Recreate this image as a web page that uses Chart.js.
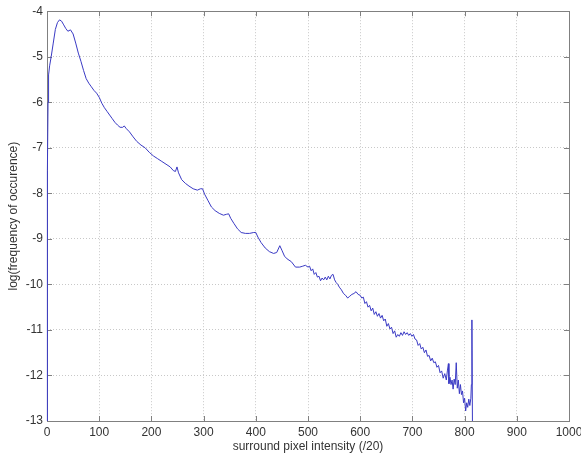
<!DOCTYPE html>
<html>
<head>
<meta charset="utf-8">
<script src="https://cdn.jsdelivr.net/npm/chart.js@4"></script>
<style>
  html, body { margin: 0; padding: 0; background: #fff; }
  canvas { display: block; }
</style>
</head>
<body>
<canvas id="freqChart" width="581" height="457"></canvas>
<script>
// surround pixel intensity (/20)
var intensity = [
  0, 0.5, 1, 2, 3, 5, 8, 12, 16, 20, 24, 28, 32, 36, 40, 45, 50, 55, 60, 65,
  70, 75, 80, 85, 90, 95, 100, 105, 110, 115, 120, 125, 130, 135, 140, 145, 148, 152, 158, 165,
  172, 180, 188, 196, 204, 212, 220, 228, 236, 242, 246, 249, 252, 258, 265, 272, 280, 288, 294, 298,
  302, 308, 315, 322, 330, 338, 344, 348, 352, 358, 365, 372, 380, 388, 396, 400, 404, 410, 418, 426,
  434, 440, 446, 450, 455, 460, 468, 476, 484, 490, 495, 500,
  503, 506, 509, 512, 515, 518, 521, 524, 527, 530, 533, 536, 539, 542, 545, 548, 551, 554, 557, 560,
  564, 568, 572, 576, 580, 584, 588, 592, 596, 600, 603, 606, 609, 612, 615, 618, 621, 624, 627, 630,
  633, 636, 639, 642, 645, 648, 651, 654, 657, 660, 663, 666, 669, 672, 675, 678, 681, 684, 687, 690,
  693, 696, 699, 702, 705, 708, 711, 714, 717, 720, 723, 726, 729, 732, 735, 738, 741, 744, 747, 750,
  753, 756, 759, 762, 765, 767, 769, 770, 772, 774, 776, 778, 780, 782, 784, 786, 788, 790, 792, 794,
  796, 798, 800, 802, 804, 806, 808, 810, 812, 813, 814, 815
];

// log(frequency of occurence)
var logFreq = [
  -13, -11, -7.5, -6.0, -5.4, -5.2, -5.0, -4.7, -4.4, -4.25, -4.19, -4.22, -4.3, -4.38, -4.44, -4.41, -4.5, -4.7, -4.92, -5.1,
  -5.3, -5.48, -5.58, -5.66, -5.74, -5.8, -5.89, -6.02, -6.12, -6.2, -6.28, -6.36, -6.44, -6.5, -6.55, -6.55, -6.52, -6.58, -6.65, -6.76,
  -6.86, -6.94, -7.0, -7.1, -7.18, -7.24, -7.3, -7.36, -7.42, -7.5, -7.52, -7.42, -7.55, -7.7, -7.78, -7.84, -7.9, -7.93, -7.9, -7.9,
  -8.02, -8.15, -8.3, -8.38, -8.44, -8.48, -8.46, -8.45, -8.55, -8.66, -8.78, -8.86, -8.88, -8.88, -8.86, -8.86, -8.96, -9.08, -9.2, -9.28,
  -9.32, -9.3, -9.15, -9.25, -9.38, -9.44, -9.5, -9.62, -9.62, -9.6, -9.58, -9.62,
  -9.6, -9.7, -9.66, -9.78, -9.74, -9.84, -9.82, -9.92, -9.86, -9.9, -9.84, -9.9, -9.82, -9.88, -9.8, -9.78, -9.9, -9.96, -10.0, -10.06,
  -10.12, -10.2, -10.24, -10.3, -10.26, -10.22, -10.2, -10.16, -10.22, -10.24, -10.3, -10.28, -10.42, -10.38, -10.5, -10.46, -10.58, -10.52, -10.66, -10.6,
  -10.7, -10.64, -10.74, -10.68, -10.8, -10.76, -10.92, -10.86, -10.98, -10.94, -11.08, -11.02, -11.16, -11.1, -11.14, -11.06, -11.12, -11.04, -11.1, -11.06,
  -11.12, -11.08, -11.14, -11.1, -11.2, -11.22, -11.34, -11.3, -11.42, -11.38, -11.5, -11.44, -11.58, -11.56, -11.68, -11.62, -11.72, -11.7, -11.82, -11.78,
  -11.94, -11.9, -12.06, -11.96, -12.1, -11.9, -11.74, -12.18, -12.04, -12.2, -12.1, -12.3, -12.08, -12.2, -11.72, -12.28, -12.1, -12.4, -12.2, -12.42,
  -12.34, -12.6, -12.5, -12.78, -12.6, -12.7, -12.52, -12.66, -12.5, -12.2, -10.78, -13
];

var xTicks = [0, 100, 200, 300, 400, 500, 600, 700, 800, 900, 1000];
var yTicks = [-13, -12, -11, -10, -9, -8, -7, -6, -5, -4];

var points = intensity.map(function (x, i) { return { x: x, y: logFreq[i] }; });

var fontFamily = "'Liberation Sans', Arial, Helvetica, sans-serif";

// box round the plot with inward ticks, like the original
var boxPlugin = {
  id: 'boxPlugin',
  beforeDatasetsDraw: function (chart) {
    var ctx = chart.ctx;
    var a = chart.chartArea;
    var xs = chart.scales.x, ys = chart.scales.y;
    ctx.save();
    ctx.strokeStyle = '#808080';
    ctx.lineWidth = 1;
    ctx.strokeRect(Math.round(a.left) + 0.5, Math.round(a.top) + 0.5,
      Math.round(a.right - a.left), Math.round(a.bottom - a.top));
    ctx.beginPath();
    xTicks.forEach(function (t) {
      var px = Math.round(xs.getPixelForValue(t)) + 0.5;
      ctx.moveTo(px, a.bottom); ctx.lineTo(px, a.bottom - 5);
      ctx.moveTo(px, a.top); ctx.lineTo(px, a.top + 5);
    });
    yTicks.forEach(function (t) {
      var py = Math.round(ys.getPixelForValue(t)) + 0.5;
      ctx.moveTo(a.left, py); ctx.lineTo(a.left + 5, py);
      ctx.moveTo(a.right, py); ctx.lineTo(a.right - 5, py);
    });
    ctx.stroke();
    ctx.restore();
  }
};

var freqChart = new Chart(document.getElementById('freqChart'), {
  type: 'scatter',
  data: {
    datasets: [{
      label: 'log frequency',
      data: points,
      showLine: true,
      borderColor: '#3a3ac4',
      borderWidth: 1,
      pointRadius: 0,
      tension: 0,
      fill: false,
      clip: { left: 2, top: 0, right: 0, bottom: 0 }
    }]
  },
  options: {
    responsive: false,
    animation: false,
    devicePixelRatio: 1,
    layout: { padding: { left: 0, right: 12, top: 10, bottom: 0 } },
    plugins: { legend: { display: false }, tooltip: { enabled: false } },
    scales: {
      x: {
        type: 'linear',
        min: 0,
        max: 1000,
        afterBuildTicks: function (scale) {
          scale.ticks = xTicks.map(function (v) { return { value: v }; });
        },
        afterFit: function (scale) {
          scale.height = 36;
          scale.paddingRight = 8;
        },
        ticks: {
          color: '#333', font: { family: fontFamily, size: 12 }, padding: 4, maxRotation: 0,
          callback: function (v) { return String(v); }
        },
        grid: { color: '#c8c8c8', drawTicks: false },
        border: { display: false, dash: [1, 2] },
        title: {
          display: true,
          text: 'surround pixel intensity (/20)',
          color: '#333',
          font: { family: fontFamily, size: 12 },
          padding: { top: 0, bottom: 3 }
        }
      },
      y: {
        type: 'linear',
        min: -13,
        max: -4,
        afterBuildTicks: function (scale) {
          scale.ticks = yTicks.map(function (v) { return { value: v }; });
        },
        afterFit: function (scale) { scale.width = 47; },
        ticks: {
          color: '#333', font: { family: fontFamily, size: 12 }, padding: 4,
          callback: function (v) { return String(v); }
        },
        grid: { color: '#c8c8c8', drawTicks: false },
        border: { display: false, dash: [1, 2] },
        title: {
          display: true,
          text: 'log(frequency of occurence)',
          color: '#333',
          font: { family: fontFamily, size: 12 },
          padding: { top: 6, bottom: 0 }
        }
      }
    }
  },
  plugins: [boxPlugin]
});
</script>
</body>
</html>
